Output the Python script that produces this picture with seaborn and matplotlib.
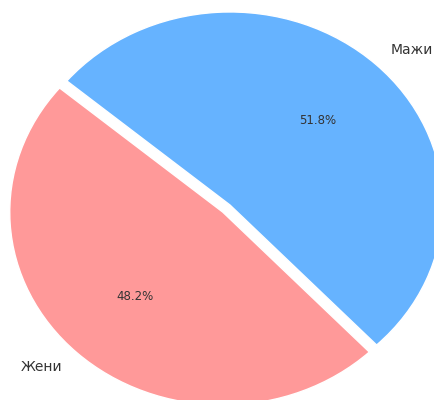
import matplotlib
matplotlib.use("Agg")
import matplotlib.pyplot as plt
import seaborn as sns

sns.set_theme(style="white")
plt.rcParams['font.family'] = ['DejaVu Sans']

labels = ['Жени', 'Мажи']
sizes = [48.2, 51.8]
colors = ['#ff9999', '#66b3ff']
explode = (0.05, 0)

fig = plt.figure(figsize=(4.34, 4.0), dpi=100)
ax = fig.add_axes([0, 0, 1, 1])
wedges, texts, autotexts = ax.pie(sizes, labels=labels, colors=colors, explode=explode,
                                  autopct='%1.1f%%', startangle=140,
                                  textprops={'fontsize': 10, 'color': '#333333'})
for t in autotexts:
    t.set_fontsize(8.5)
ax.set_aspect('auto')
ax.set_xlim(-1.08, 0.958)
ax.set_ylim(-1.010, 1.062)
ax.axis('off')
fig.savefig('out.png', dpi=100)
